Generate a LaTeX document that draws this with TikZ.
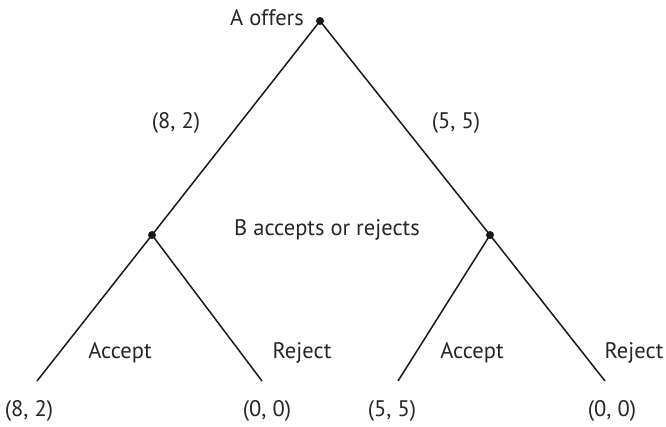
\documentclass[tikz,border=0pt]{standalone}
\usepackage{fontspec}
\setmainfont{PT Sans}
\begin{document}
\begin{tikzpicture}[x=1pt,y=-1pt,
  edge/.style={line width=1.5pt, black!90},
  dot/.style={circle, fill=black!90, inner sep=0pt, minimum size=8pt},
  lbl/.style={anchor=base, inner sep=0pt, font=\fontsize{22.5}{26}\selectfont, text=black!85}]
\useasboundingbox (0,0) rectangle (666,426);
\node[dot] (A) at (320,21) {};
\node[dot] (BL) at (152,235) {};
\node[dot] (BR) at (490,235) {};
\coordinate (L1) at (37,381);
\coordinate (L2) at (262,381);
\coordinate (L3) at (398,381);
\coordinate (L4) at (605,381);
\draw[edge] (A.center) -- (BL.center);
\draw[edge] (A.center) -- (BR.center);
\draw[edge] (BL.center) -- (L1);
\draw[edge] (BL.center) -- (L2);
\draw[edge] (BR.center) -- (L3);
\draw[edge] (BR.center) -- (L4);
\node[lbl] (tA) at (267,25) {A offers};
\node[lbl] (t82) at (176,128) {(8, 2)};
\node[lbl] (t55) at (456,128) {(5, 5)};
\node[lbl] (tB) at (327,235) {B accepts or rejects};
\node[lbl] (acc1) at (120,358) {Accept};
\node[lbl] (rej1) at (302,358) {Reject};
\node[lbl] (acc2) at (472,358) {Accept};
\node[lbl] (rej2) at (634,358) {Reject};
\node[lbl] (p1) at (29,416) {(8, 2)};
\node[lbl] (p2) at (267,416) {(0, 0)};
\node[lbl] (p3) at (392,416) {(5, 5)};
\node[lbl] (p4) at (612,416) {(0, 0)};
\end{tikzpicture}
\end{document}
